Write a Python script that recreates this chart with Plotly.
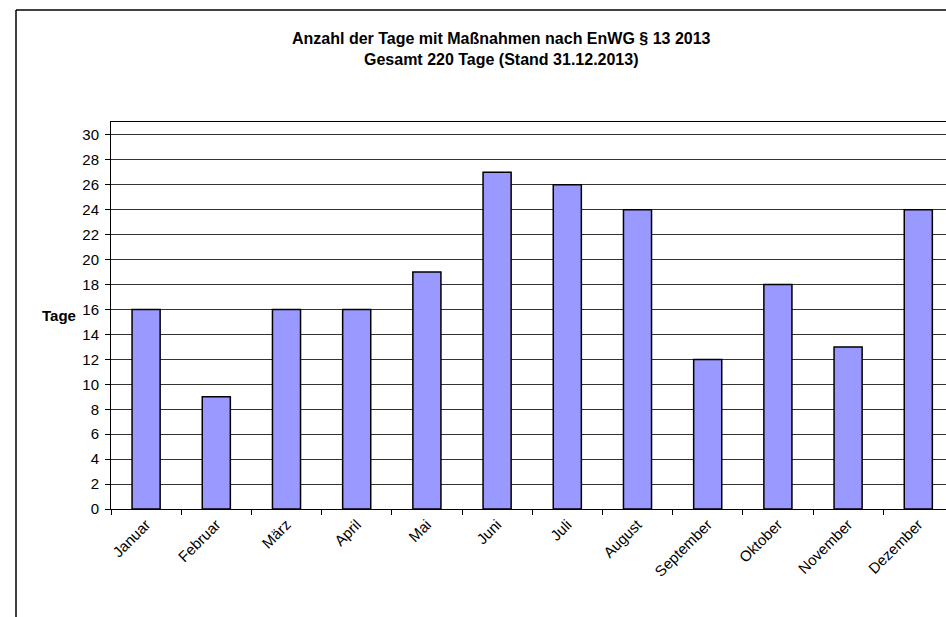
import plotly.graph_objects as go

months = ["Januar", "Februar", "März", "April", "Mai", "Juni", "Juli",
          "August", "September", "Oktober", "November", "Dezember"]
tage = [16, 9, 16, 16, 19, 27, 26, 24, 12, 18, 13, 24]
y_ticks = list(range(0, 31, 2))

W, H = 946, 617
L, R, T, B = 111, 0, 122, H - 509
pw, ph = W - L - R, H - T - B

def px_x(x):
    return (x - L) / pw

def px_y(y):
    return (H - B - y) / ph

fig = go.Figure(go.Bar(
    x=months, y=tage, width=0.4,
    marker=dict(color="#9999FF", line=dict(color="black", width=1.5)),
))

font = "Liberation Sans, Arial, sans-serif"
fig.update_layout(
    width=W, height=H,
    margin=dict(l=L, r=R, t=T, b=B),
    paper_bgcolor="white", plot_bgcolor="white",
    showlegend=False,
    font=dict(family=font, color="black"),
)
fig.update_xaxes(
    range=[-0.5, -0.5 + pw / 70.2],
    tickangle=-45, tickfont=dict(size=15, family=font),
    showline=True, linecolor="black", linewidth=1, mirror=True,
    ticks="outside", ticklen=5, tickcolor="black", tickson="boundaries",
    showgrid=False,
)
fig.update_yaxes(
    range=[0, 31.04], tickvals=y_ticks, ticktext=[str(v) for v in y_ticks],
    tickfont=dict(size=15, family=font), ticklabelstandoff=3,
    showline=True, linecolor="black", linewidth=1,
    ticks="outside", ticklen=5, tickcolor="black",
    showgrid=True, gridcolor="#333333", gridwidth=1,
    zeroline=False,
)

fig.add_annotation(
    text="<b>Anzahl der Tage mit Maßnahmen nach EnWG § 13 2013<br>Gesamt 220 Tage (Stand 31.12.2013)</b>",
    xref="paper", yref="paper", x=px_x(501), y=px_y(49),
    xanchor="center", yanchor="middle", showarrow=False,
    font=dict(size=16, family=font), align="center",
)
fig.add_annotation(
    text="<b>Tage</b>", xref="paper", yref="paper", x=px_x(78), y=px_y(315),
    xanchor="right", yanchor="middle", showarrow=False,
    font=dict(size=15, family=font),
)
# outer chart frame (right and bottom edges cropped)
fig.add_shape(type="line", xref="paper", yref="paper",
              x0=px_x(16), x1=px_x(16), y0=px_y(10), y1=px_y(640),
              line=dict(color="black", width=1.5))
fig.add_shape(type="line", xref="paper", yref="paper",
              x0=px_x(16), x1=px_x(960), y0=px_y(10), y1=px_y(10),
              line=dict(color="black", width=1.5))

fig.write_html(
    "out.html",
    config={"displayModeBar": False},
    post_script=(
        "document.body.style.margin='0';"
        "document.body.style.overflow='hidden';"
        "document.documentElement.style.overflow='hidden';"
    ),
)
